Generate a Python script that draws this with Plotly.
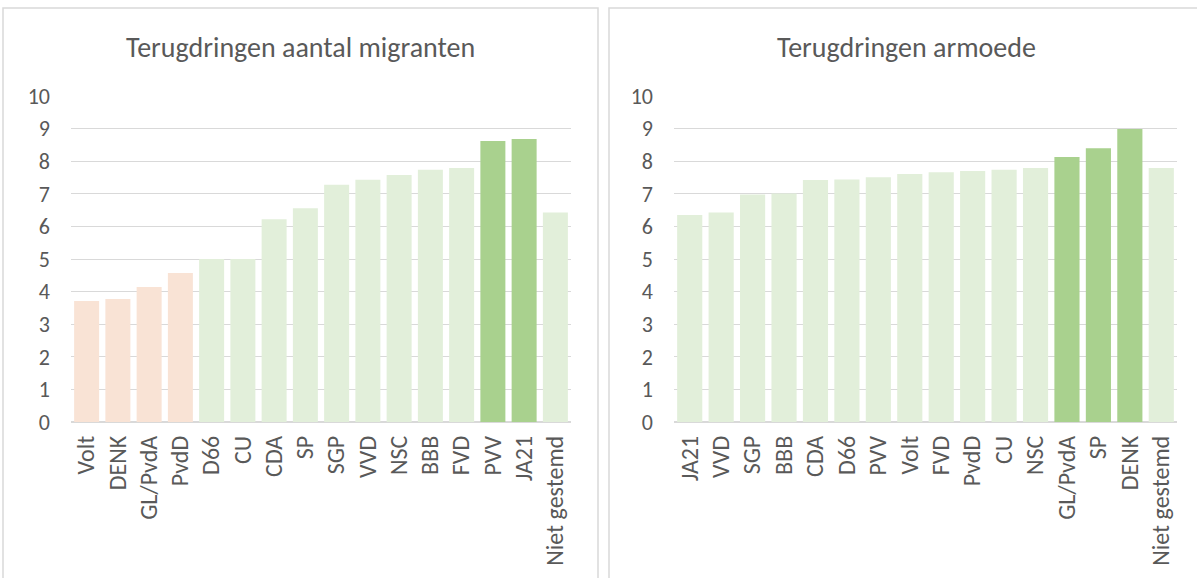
import plotly.graph_objects as go

W, H = 1197, 578

# Left chart data
left_title = "Terugdringen aantal migranten"
left_parties = ["Volt", "DENK", "GL/PvdA", "PvdD", "D66", "CU", "CDA", "SP", "SGP",
                "VVD", "NSC", "BBB", "FVD", "PVV", "JA21", "Niet gestemd"]
left_values = [3.71, 3.77, 4.14, 4.57, 5.0, 5.0, 6.22, 6.56, 7.28,
               7.43, 7.58, 7.74, 7.79, 8.62, 8.68, 6.43]
left_groups = ["low", "low", "low", "low", "mid", "mid", "mid", "mid", "mid",
               "mid", "mid", "mid", "mid", "high", "high", "mid"]

# Right chart data
right_title = "Terugdringen armoede"
right_parties = ["JA21", "VVD", "SGP", "BBB", "CDA", "D66", "PVV", "Volt", "FVD",
                 "PvdD", "CU", "NSC", "GL/PvdA", "SP", "DENK", "Niet gestemd"]
right_values = [6.35, 6.43, 6.98, 7.01, 7.42, 7.44, 7.51, 7.61, 7.66,
                7.70, 7.74, 7.79, 8.13, 8.40, 8.99, 7.79]
right_groups = ["mid"] * 12 + ["high", "high", "high", "mid"]

y_ticks = list(range(0, 11))

palette = {"low": "#F9E3D5", "mid": "#E2EFDA", "high": "#A9D18E"}
TXT = "#595959"
GRID = "#D9D9D9"
FONT = "Calibri, Carlito, 'Open Sans', sans-serif"

fig = go.Figure()
fig.add_trace(go.Bar(x=left_parties, y=left_values,
                     marker=dict(color=[palette[g] for g in left_groups], line=dict(width=0)),
                     xaxis="x", yaxis="y", hoverinfo="x+y"))
fig.add_trace(go.Bar(x=right_parties, y=right_values,
                     marker=dict(color=[palette[g] for g in right_groups], line=dict(width=0)),
                     xaxis="x2", yaxis="y2", hoverinfo="x+y"))

def px_x(p):
    return p / W

def px_y(p):
    return 1 - p / H

ydom = [px_y(422), px_y(96)]
xcommon = dict(type="category", showgrid=False, showline=False, ticks="", automargin=False,
               tickangle=-90, tickfont=dict(family=FONT, size=24, color=TXT),
               ticklabelstandoff=8)
ycommon = dict(range=[0, 10], tickvals=y_ticks, showgrid=True, gridcolor=GRID, gridwidth=1,
               zeroline=True, zerolinecolor=GRID, zerolinewidth=1.5, showline=False,
               automargin=False,
               tickfont=dict(family=FONT, size=22, color=TXT), ticklabelstandoff=20)

fig.update_layout(
    width=W, height=H,
    margin=dict(l=0, r=0, t=0, b=0, autoexpand=False),
    paper_bgcolor="white", plot_bgcolor="white",
    showlegend=False, bargap=0.2,
    xaxis=dict(domain=[px_x(71), px_x(571)], anchor="y", **xcommon),
    yaxis=dict(domain=ydom, anchor="x", **ycommon),
    xaxis2=dict(domain=[px_x(674), px_x(1177)], anchor="y2", **xcommon),
    yaxis2=dict(domain=ydom, anchor="x2", **ycommon),
    shapes=[
        dict(type="rect", xref="paper", yref="paper", x0=px_x(3), x1=px_x(598),
             y0=px_y(590), y1=px_y(8), line=dict(color=GRID, width=1.5), layer="below"),
        dict(type="rect", xref="paper", yref="paper", x0=px_x(609), x1=px_x(1205),
             y0=px_y(590), y1=px_y(8), line=dict(color=GRID, width=1.5), layer="below"),
    ],
    annotations=[
        dict(text=left_title, xref="paper", yref="paper", x=px_x(300), y=px_y(48),
             showarrow=False, xanchor="center", yanchor="middle",
             font=dict(family=FONT, size=28, color=TXT)),
        dict(text=right_title, xref="paper", yref="paper", x=px_x(906), y=px_y(48),
             showarrow=False, xanchor="center", yanchor="middle",
             font=dict(family=FONT, size=28, color=TXT)),
    ],
)

fig.write_html("out.html", config={"displayModeBar": False},
               post_script="document.body.style.margin='0';document.body.style.overflow='hidden';")
